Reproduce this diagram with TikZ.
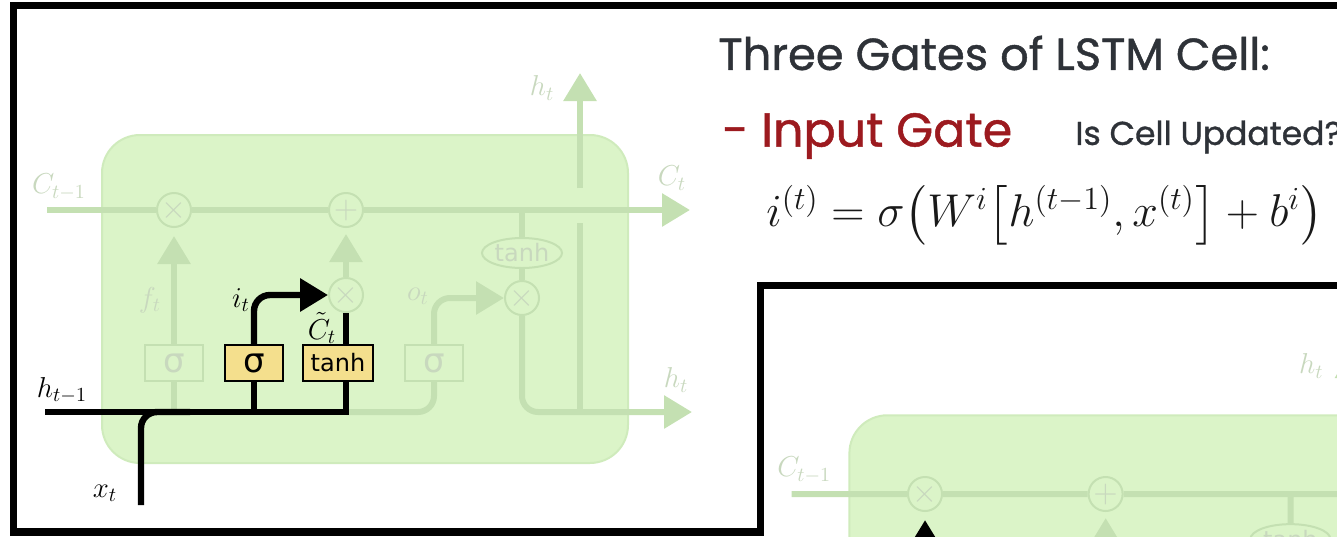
\RequirePackage{fix-cm}
\documentclass[tikz,border=0pt]{standalone}
\usepackage{fontspec}
\usepackage{amsmath}
\usetikzlibrary{arrows.meta,shapes.geometric}
\newfontfamily\headfont[FakeBold=1]{Poppins}
\newfontfamily\gatefont{DejaVu Sans}
\definecolor{cellfill}{HTML}{DBF4C8}
\definecolor{cellborder}{HTML}{CFEBBC}
\definecolor{cellline}{HTML}{C4E0B2}
\definecolor{fadetext}{HTML}{C8D8BE}
\definecolor{gateyellow}{HTML}{F4DF8D}
\definecolor{gatered}{HTML}{9C1A1F}
\definecolor{headgray}{HTML}{2E3238}
\newcommand{\lbl}{\fontsize{14.4}{17}\selectfont}
\newcommand{\sig}{{\gatefont\fontsize{17}{17}\selectfont σ}}
\newcommand{\tnh}{{\gatefont\fontsize{12}{12}\selectfont tanh}}
\tikzset{
  bigtip/.style={-{Triangle[length=14pt,width=16pt]}},
  cellbox/.style={fill=cellfill,draw=cellborder,line width=1pt,rounded corners=19pt},
  opnode/.style={circle,fill=cellfill,draw=cellline,line width=1pt,minimum size=17pt,
    inner sep=0pt,text=fadetext,font=\fontsize{16}{16}\selectfont},
  squash/.style={ellipse,fill=cellfill,draw=cellline,line width=1pt,minimum width=40pt,
    minimum height=15pt,inner sep=0pt,text=fadetext},
  fadewire/.style={draw=cellline,line width=3pt},
  hotwire/.style={draw=black,line width=3.2pt},
  fadebox/.style={draw=cellline,fill=cellfill,line width=1pt,text=fadetext,
    minimum width=29pt,minimum height=18pt,inner sep=0pt},
  hotbox/.style={draw=black,fill=gateyellow,line width=1pt,text=black,
    minimum width=29pt,minimum height=18pt,inner sep=0pt},
  fadelbl/.style={text=fadetext,font=\lbl,inner sep=0pt},
  hotlbl/.style={text=black,font=\lbl,inner sep=0pt},
  % roles, faded unless a panel says otherwise
  fgatebox/.style={fadebox}, igatebox/.style={fadebox},
  cgatebox/.style={fadebox}, ogatebox/.style={fadebox},
  fwire/.style={fadewire}, iwire/.style={fadewire}, cwire/.style={fadewire},
  owire/.style={fadewire}, hwire/.style={fadewire}, xwire/.style={fadewire},
  ilbl/.style={fadelbl}, clbl/.style={fadelbl}, hlbl/.style={fadelbl}, xlbl/.style={fadelbl},
  headline/.style={font=\headfont\fontsize{22.4}{26}\selectfont,text=headgray,inner sep=0pt},
  gatename/.style={font=\headfont\fontsize{23.8}{28}\selectfont,text=gatered,inner sep=0pt},
  question/.style={font=\headfont\fontsize{16.5}{20}\selectfont,text=headgray,inner sep=0pt},
  formula/.style={font=\fontsize{23}{27}\selectfont,text=black!90,inner sep=0pt}
}
% one LSTM cell, #1 = prefix of its node names
\newcommand{\lstmcell}[1]{%
  \draw[cellbox] (102,135) rectangle (628,463);
  % pointwise operations
  \node[opnode] (#1fx) at (174,210) {$\times$};
  \node[opnode] (#1px) at (346,210) {$+$};
  \node[opnode] (#1ix) at (346,295) {$\times$};
  \node[opnode] (#1ox) at (522,298) {$\times$};
  \node[squash] (#1th) at (522,253) {\tnh};
  % layers
  \node[fgatebox] (#1fs) at (174,363) {\sig};
  \node[igatebox] (#1is) at (254,363) {\sig};
  \node[cgatebox,minimum width=35pt] (#1cs) at (338,363) {\tnh};
  \node[ogatebox] (#1os) at (434,363) {\sig};
  % wire ends
  \coordinate (#1cin) at (47,210);
  \coordinate (#1cout) at (690,210);
  \coordinate (#1hin) at (45,412);
  \coordinate (#1hj) at (346,412);
  \coordinate (#1hout) at (692,412);
  \coordinate (#1xin) at (141,505);
  \coordinate (#1xj) at (190,412);
  \coordinate (#1hlo) at (580,412);
  \coordinate (#1hmid) at (580,223);
  \coordinate (#1hhi) at (580,188);
  \coordinate (#1hup) at (580,73);
  % cell state
  \draw[fadewire] (#1cin) -- (#1fx);
  \draw[fadewire] (#1fx) -- (#1px);
  \draw[fadewire,bigtip] (#1px) -- (#1cout);
  % forget gate
  \draw[fwire] (#1fs) -- (#1fs |- #1hj);
  \draw[fwire,bigtip,shorten >=4pt] (#1fs) -- (#1fx);
  % input gate
  \draw[iwire] (#1is) -- (#1is |- #1hj);
  \draw[iwire,bigtip,rounded corners=8pt] (#1is) -- (#1is.north |- #1ix) -- (#1ix);
  \draw[cwire] (#1cs.north -| #1ix) -- (#1ix);
  \draw[fadewire,bigtip,shorten >=3pt] (#1ix) -- (#1px);
  % output gate
  \draw[owire,rounded corners=8pt] (#1hj) -- (#1os |- #1hj) -- (#1os);
  \draw[owire,bigtip,rounded corners=8pt] (#1os) -- (#1os |- #1ox) -- (#1ox);
  \draw[fadewire] (#1th) -- (#1th |- #1cin);
  \draw[fadewire] (#1th) -- (#1ox);
  \draw[fadewire,bigtip,rounded corners=8pt] (#1ox) -- (#1ox |- #1hout) -- (#1hout);
  \draw[fadewire] (#1hlo) -- (#1hmid);
  \draw[fadewire,bigtip] (#1hhi) -- (#1hup);
  % inputs
  \draw[xwire,rounded corners=8pt] (#1xin) -- (#1xin |- #1hj) -- (#1xj);
  \draw[hwire] (#1hin) -- (#1hj) -- (#1cs.south -| #1ix);
  % labels
  \node[fadelbl] (#1ft) at (150,300) {$f_t$};
  \node[ilbl] (#1it) at (241,300) {$i_t$};
  \node[clbl] (#1ct) at (322,328) {$\tilde{C}_t$};
  \node[fadelbl] (#1ot) at (418,296) {$o_t$};
  \node[fadelbl] (#1cl) at (59,187) {$C_{t-1}$};
  \node[fadelbl] (#1cr) at (672,178) {$C_t$};
  \node[fadelbl] (#1ht) at (542,88) {$h_t$};
  \node[fadelbl] (#1hr) at (676,380) {$h_t$};
  \node[hlbl] (#1hl) at (62,390) {$h_{t-1}$};
  \node[xlbl] (#1xl) at (105,493) {$x_t$};
}

\begin{document}
\begin{tikzpicture}[x=0.5pt,y=-0.5pt]
\useasboundingbox (0,0) rectangle (1337,536);
\clip (0,0) rectangle (1337,536);
% frames of the two slides
\fill (10,2) rectangle (1337,9);
\fill (10,2) rectangle (17,536);
\fill (10,528) rectangle (764,536);
\fill (757,282) rectangle (1337,289);
\fill (757,282) rectangle (764,536);
% input gate highlighted
\begin{scope}[igatebox/.style={hotbox}, cgatebox/.style={hotbox},
  iwire/.style={hotwire}, cwire/.style={hotwire}, hwire/.style={hotwire},
  xwire/.style={hotwire}, ilbl/.style={hotlbl}, clbl/.style={hotlbl},
  hlbl/.style={hotlbl}, xlbl/.style={hotlbl}]
\lstmcell{a}
\end{scope}
% next slide, cut off
\begin{scope}
\clip (764,289) rectangle (1337,536);
\begin{scope}[shift={(742.3,273.5)},scale=1.05,fwire/.style={hotwire}]
\lstmcell{b}
\end{scope}
\end{scope}
% slide text
\node[headline,anchor=west] (heading) at (718,53) {Three Gates of LSTM Cell:};
\node[gatename,anchor=west] (gate) at (722,136) {- Input Gate};
\node[question,anchor=west] (ask) at (1075,137) {Is Cell Updated?};
\node[formula,anchor=west] (eq) at (766,215)
  {$i^{(t)} = \sigma\bigl(W^i\bigl[h^{(t-1)}, x^{(t)}\bigr] + b^i\bigr)$};
\end{tikzpicture}
\end{document}
